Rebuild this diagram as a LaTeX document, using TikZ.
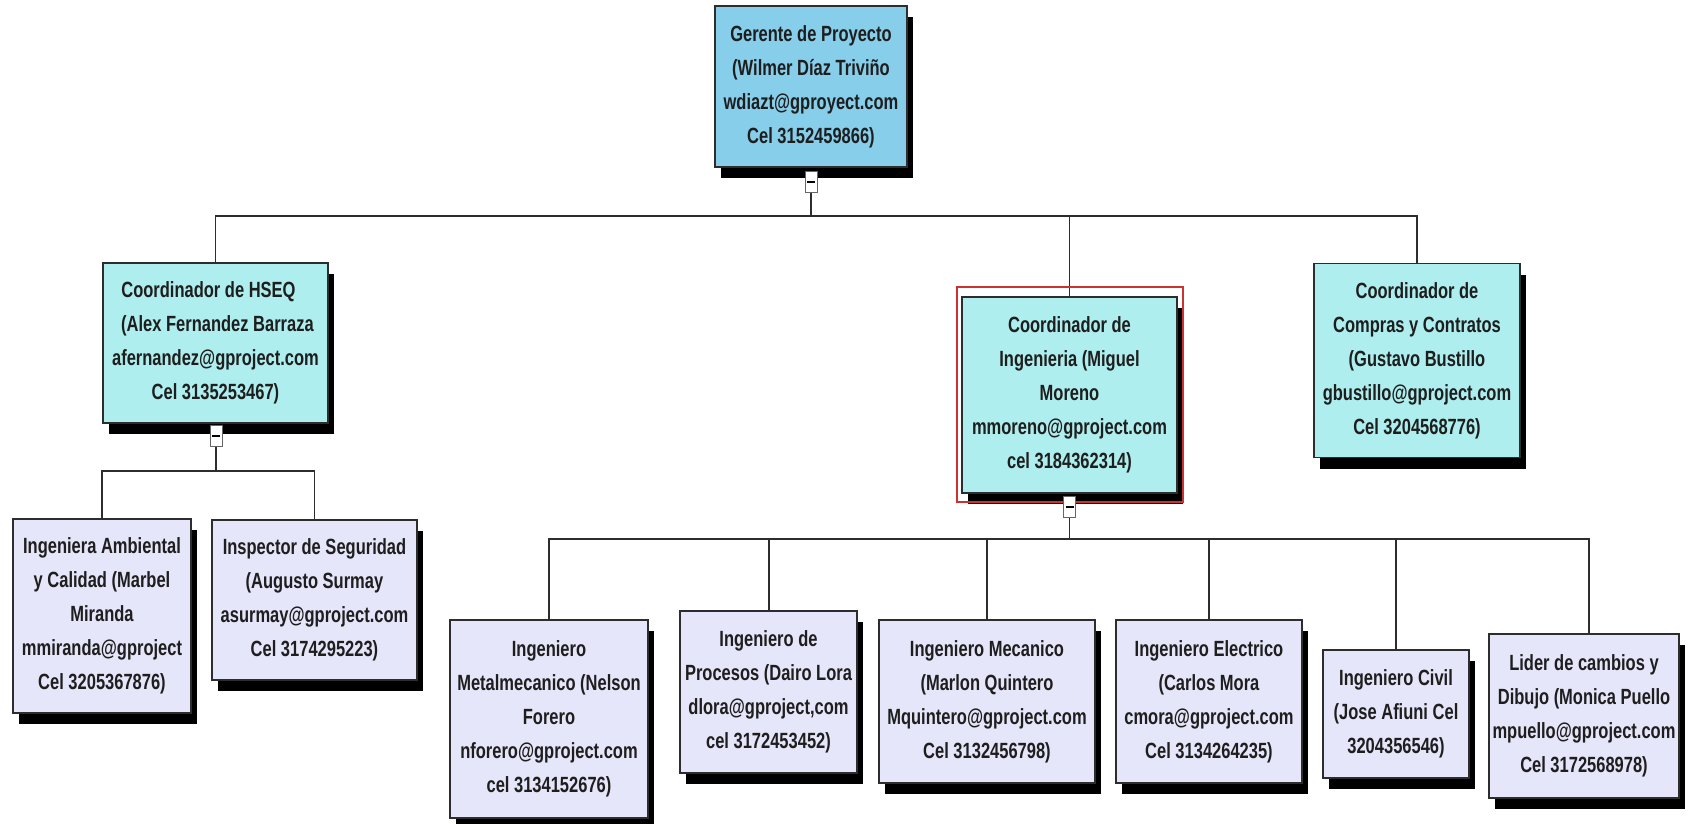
\documentclass[tikz,border=0pt]{standalone}
\usepackage{fontspec}
\setmainfont{Liberation Sans}[FakeStretch=0.75]
\usetikzlibrary{shadows}
\definecolor{topfill}{RGB}{135,206,235}
\definecolor{midfill}{RGB}{175,238,238}
\definecolor{lowfill}{RGB}{230,230,250}
\definecolor{edgegray}{RGB}{45,45,45}
\definecolor{selred}{RGB}{205,50,50}
\definecolor{inkdark}{RGB}{30,30,30}
\begin{document}
\begin{tikzpicture}[x=0.5pt,y=-0.5pt,
  card/.style={draw=edgegray, line width=0.7pt, align=center, inner sep=0pt,
    text=inkdark, font=\fontsize{11}{17}\selectfont\bfseries,
    drop shadow={shadow xshift=3pt, shadow yshift=-5.5pt, fill=black, opacity=1}},
  topcard/.style={card, fill=topfill},
  midcard/.style={card, fill=midfill},
  lowcard/.style={card, fill=lowfill},
  wire/.style={draw=edgegray, line width=0.6pt},
  toggle/.style={draw=gray!80!black, fill=white, line width=0.5pt,
    minimum width=6pt, minimum height=10.5pt, inner sep=0pt},
  togglemark/.style={draw=black, line width=1.1pt}]

\fill[white] (0,0) rectangle (1688,824);
\useasboundingbox (0,0) rectangle (1688,824);

% junction points of the three horizontal bars
\coordinate (j0) at (811,216);
\coordinate (j1) at (216,471);
\coordinate (j2) at (1069,539);

% connectors (drawn first, boxes cover their ends)
\draw[wire] (811,167) -- (j0);
\draw[wire] (215.5,263) -- (215.5,216) -- (1417,216) -- (1417,263);
\draw[wire] (1069.5,297) -- (1069.5,216);
\draw[wire] (216,423) -- (j1);
\draw[wire] (102,519) -- (102,471) -- (314.5,471) -- (314.5,520);
\draw[wire] (1069.5,493) -- (1069.5,539);
\draw[wire] (549,620) -- (549,539) -- (1589,539) -- (1589,634);
\draw[wire] (769,611) -- (769,539);
\draw[wire] (987,620) -- (987,539);
\draw[wire] (1209,620) -- (1209,539);
\draw[wire] (1396,650) -- (1396,539);

% level 0
\node[topcard, minimum width=96pt, minimum height=80.5pt] (gp) at (811,86.5)
  {Gerente de Proyecto\\(Wilmer Díaz Triviño\\wdiazt@gproyect.com\\Cel 3152459866)};

% level 1
\node[midcard, minimum width=112.5pt, minimum height=80pt] (hseq) at (215.5,343)
  {Coordinador de HSEQ\hspace*{7pt}\\\hspace*{2pt}(Alex Fernandez Barraza\\afernandez@gproject.com\\Cel 3135253467)};
\node[midcard, minimum width=107.5pt, minimum height=98pt] (ing) at (1069.5,395)
  {Coordinador de\\Ingenieria (Miguel\\Moreno\\mmoreno@gproject.com\\cel 3184362314)};
\node[midcard, minimum width=103pt, minimum height=97pt] (comp) at (1417,360.5)
  {Coordinador de\\Compras y Contratos\\(Gustavo Bustillo\\gbustillo@gproject.com\\Cel 3204568776)};

% level 2 under HSEQ
\node[lowcard, minimum width=89pt, minimum height=97pt] (amb) at (102,616)
  {Ingeniera Ambiental\\y Calidad (Marbel\\Miranda\\mmiranda@gproject\\Cel 3205367876)};
\node[lowcard, minimum width=102.5pt, minimum height=80pt] (insp) at (314.5,600)
  {Inspector de Seguridad\\(Augusto Surmay\\asurmay@gproject.com\\Cel 3174295223)};

% level 2 under engineering
\node[lowcard, minimum width=99pt, minimum height=99pt] (metal) at (549,719)
  {Ingeniero\\Metalmecanico (Nelson\\Forero\\nforero@gproject.com\\cel 3134152676)};
\node[lowcard, minimum width=88.5pt, minimum height=81pt] (proc) at (768.5,692)
  {Ingeniero de\\Procesos (Dairo Lora\\dlora@gproject,com\\cel 3172453452)};
\node[lowcard, minimum width=108pt, minimum height=81.5pt] (mec) at (987,701.5)
  {Ingeniero Mecanico\\(Marlon Quintero\\Mquintero@gproject.com\\Cel 3132456798)};
\node[lowcard, minimum width=93pt, minimum height=81.5pt] (elec) at (1209,701.5)
  {Ingeniero Electrico\\(Carlos Mora\\cmora@gproject.com\\Cel 3134264235)};
\node[lowcard, minimum width=73pt, minimum height=64pt] (civil) at (1396,714)
  {Ingeniero Civil\\(Jose Afiuni Cel\\3204356546)};
\node[lowcard, minimum width=95pt, minimum height=82pt] (lider) at (1584,716)
  {Lider de cambios y\\Dibujo (Monica Puello\\mpuello@gproject.com\\Cel 3172568978)};

% selection frame around the engineering coordinator
\node[draw=selred, line width=0.6pt, minimum width=113pt, minimum height=107.5pt,
  inner sep=0pt] (sel) at (1070,394.5) {};

% collapse toggles below the expanded boxes
\node[toggle] (tg0) at (811,182) {};
\draw[togglemark] (tg0.center) +(-2pt,0) -- +(2pt,0);
\node[toggle] (tg1) at (216,436) {};
\draw[togglemark] (tg1.center) +(-2pt,0) -- +(2pt,0);
\node[toggle] (tg2) at (1069.5,507) {};
\draw[togglemark] (tg2.center) +(-2pt,0) -- +(2pt,0);
\end{tikzpicture}
\end{document}
